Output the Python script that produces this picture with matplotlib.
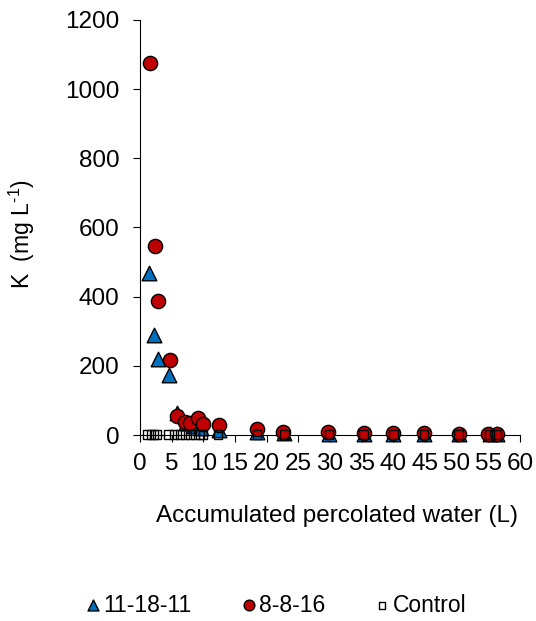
import matplotlib
matplotlib.use("Agg")
import matplotlib.pyplot as plt

plt.rcParams['font.family'] = ['Liberation Sans', 'DejaVu Sans']
plt.rcParams['mathtext.fontset'] = 'custom'
plt.rcParams['mathtext.rm'] = 'Liberation Sans'
plt.rcParams['mathtext.it'] = 'Liberation Sans'

# Data
x_111811 = [1.4, 2.2, 2.8, 4.6, 5.9, 7.2, 8.5, 9.6, 12.5, 18.5, 22.8, 29.8, 35.3, 40.0, 44.8, 50.3, 55.2, 56.3]
k_111811 = [467, 289, 219, 173, 64, 35, 25, 20, 15, 8, 5, 3, 3, 2, 2, 2, 2, 2]

x_8816 = [1.5, 2.4, 2.9, 4.7, 5.9, 7.1, 7.9, 9.2, 10.0, 12.4, 18.4, 22.6, 29.7, 35.3, 40.0, 44.8, 50.3, 55.0, 56.3]
k_8816 = [1075, 546, 388, 217, 56, 38, 34, 48, 32, 29, 18, 10, 8, 6, 6, 5, 4, 4, 3]

x_control = [1.15, 1.7, 2.2, 2.7, 4.5, 5.4, 6.3, 7.1, 7.9, 8.7, 9.5, 10.0, 12.3,
             18.5, 22.8, 29.8, 35.3, 40.0, 44.8, 50.3, 55.2, 56.3]
k_control = [1, 1, 1, 1, 1, 1, 1, 1, 1, 1, 1, 1, 1,
             1, 1, 1, 1, 1, 1, 1, 1, 1]

fig = plt.figure(figsize=(5.36, 6.21), dpi=100)
ax = fig.add_axes([140 / 536, 1 - 435 / 621, 380 / 536, 415 / 621])

ax.scatter(x_111811, k_111811, marker='^', s=110, c='#0070C0', edgecolors='black',
           linewidths=1.0, label='11-18-11', clip_on=False, zorder=3)
ax.scatter(x_8816, k_8816, marker='o', s=105, c='#C00000', edgecolors='black',
           linewidths=1.0, label='8-8-16', clip_on=False, zorder=4)
ax.scatter(x_control, k_control, marker='s', s=36, facecolors='none', edgecolors='black',
           linewidths=1.0, label='Control', clip_on=False, zorder=5)

ax.set_xlim(0, 60)
ax.set_ylim(0, 1200)
ax.set_xticks(range(0, 61, 5))
ax.set_yticks(range(0, 1201, 200))
ax.spines['top'].set_visible(False)
ax.spines['right'].set_visible(False)
ax.tick_params(direction='out', length=5, labelsize=17.5)
ax.tick_params(axis='y', pad=10)
ax.tick_params(axis='x', pad=8)

ax.set_xlabel('Accumulated percolated water (L)', fontsize=17.5)
ax.xaxis.set_label_coords(0.518, -0.168)
ax.set_ylabel(r'K  (mg L$^{\text{-1}}$)', fontsize=16.5)
ax.yaxis.set_label_coords(-0.27, 0.485)

fig.legend(loc='center', bbox_to_anchor=(0.515, 1 - 605 / 621), ncol=3, frameon=False,
           fontsize=16.5, markerscale=0.75, handlelength=0.6, handletextpad=0.15,
           columnspacing=2.2)

fig.savefig('out.png', dpi=100)
